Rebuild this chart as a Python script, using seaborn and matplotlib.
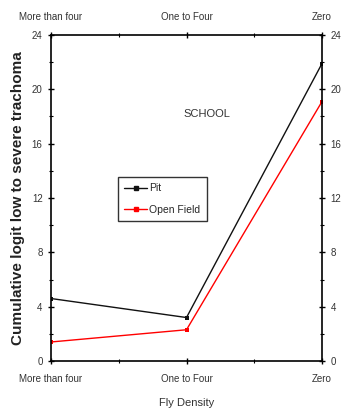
import matplotlib
matplotlib.use("Agg")
import matplotlib.pyplot as plt
from matplotlib.ticker import MultipleLocator
import seaborn as sns
import pandas as pd

categories = ["More than four", "One to Four", "Zero"]
pit = [4.6, 3.2, 21.9]
open_field = [1.4, 2.3, 19.1]
y_ticks = [0, 4, 8, 12, 16, 20, 24]

sns.set_theme(style="white")
plt.rcParams["font.family"] = ["Liberation Sans Narrow", "Liberation Sans", "DejaVu Sans"]

df = pd.DataFrame({
    "pos": list(range(len(categories))) * 2,
    "value": pit + open_field,
    "series": ["Pit"] * 3 + ["Open Field"] * 3,
})

fig = plt.figure(figsize=(3.41, 4.17), dpi=100)
ax = fig.add_axes([51 / 341, 1 - 361 / 417, 271 / 341, 326 / 417])

sns.lineplot(data=df, x="pos", y="value", hue="series",
             palette={"Pit": "#111111", "Open Field": "#ff0000"},
             marker="s", markersize=3.2, markeredgewidth=0, linewidth=1.0,
             ax=ax, legend=False)

ax.set_xlim(0, 2)
ax.set_ylim(0, 24)
ax.set_yticks(y_ticks)
ax.yaxis.set_minor_locator(MultipleLocator(2))
ax.set_xticks(range(len(categories)))
ax.set_xticklabels(categories)
ax.xaxis.set_minor_locator(MultipleLocator(0.5))

for s in ax.spines.values():
    s.set_visible(True)
    s.set_color("black")
    s.set_linewidth(1.2)

ax.tick_params(axis="both", which="major", direction="inout", length=5, width=1,
               labelsize=7, colors="black", labelcolor="#333333",
               top=True, right=True, labeltop=True, labelright=True, bottom=True, left=True)
ax.tick_params(axis="x", which="major", pad=7)
ax.tick_params(axis="both", which="minor", direction="inout", length=3, width=0.8,
               top=True, right=True, bottom=True, left=True, colors="black")

ax.set_xlabel("Fly Density", fontsize=8, color="#333333", labelpad=10)
ax.set_ylabel("Cumulative logit low to severe trachoma", fontsize=11,
              fontweight="bold", color="#222222", labelpad=5)

ax.text(1.15, 18.2, "SCHOOL", fontsize=8, color="#333333", ha="center", va="center")

leg_handles = [
    plt.Line2D([], [], color="#111111", marker="s", markersize=3, lw=1.0),
    plt.Line2D([], [], color="#ff0000", marker="s", markersize=3, lw=1.0),
]
leg = ax.legend(leg_handles, ["Pit", "Open Field"], loc="upper left",
                bbox_to_anchor=((118 - 51) / 271, (361 - 177) / 326),
                fontsize=7.5, frameon=True, fancybox=False, handlelength=2.2,
                handletextpad=0.2, borderpad=0.6, labelspacing=1.1,
                edgecolor="black", borderaxespad=0)
leg.get_frame().set_linewidth(1.0)

fig.savefig("out.png", dpi=100)
